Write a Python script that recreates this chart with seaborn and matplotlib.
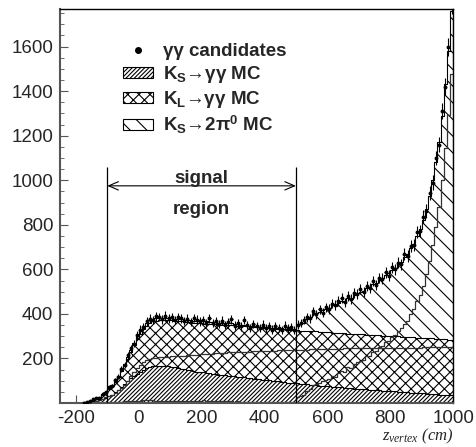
"""
z-vertex distribution of gamma-gamma candidates with the stacked MC
components (K_S -> gg, K_L -> gg, K_S -> 2pi0) and the signal region.
"""
import numpy as np
import pandas as pd
import seaborn as sns
import matplotlib.pyplot as plt
from matplotlib.patches import Patch
from matplotlib.lines import Line2D
from matplotlib.ticker import MultipleLocator


"""
1. Data (10 cm bins starting at -200 cm)
"""
bin_lo = -200
bin_width = 10

# K_S -> gamma gamma MC
ks_gg = [
    0, 1, 2, 3, 5, 7, 9, 12, 17, 22,
    30, 37, 48, 60, 73, 86, 99, 111, 122, 131,
    139, 148, 155, 161, 165, 167, 168, 168, 167, 165,
    163, 160, 157, 154, 151, 148, 146, 143, 141, 139,
    137, 135, 133, 131, 130, 128, 126, 124, 123, 121,
    120, 118, 116, 115, 113, 112, 110, 108, 107, 105,
    103, 102, 100, 99, 97, 95, 94, 92, 91, 89,
    88, 86, 85, 84, 82, 81, 80, 78, 77, 76,
    75, 73, 72, 71, 70, 69, 67, 66, 65, 64,
    63, 62, 61, 60, 59, 58, 57, 56, 55, 54,
    53, 52, 51, 50, 49, 48, 47, 46, 45, 44,
    43, 42, 41, 40, 39, 38, 37, 36, 35, 34]

# K_L -> gamma gamma MC
kl_gg = [
    0, 0, 1, 2, 4, 6, 9, 12, 20, 26,
    32, 38, 46, 57, 69, 83, 100, 120, 140, 158,
    172, 185, 193, 198, 201, 203, 205, 206, 207, 208,
    209, 210, 211, 212, 213, 214, 215, 216, 217, 218,
    219, 220, 221, 222, 223, 224, 225, 226, 227, 228,
    229, 229, 230, 230, 231, 231, 232, 232, 233, 233,
    234, 234, 235, 235, 236, 236, 237, 237, 238, 238,
    239, 239, 240, 240, 241, 241, 242, 242, 242, 243,
    243, 243, 244, 244, 244, 245, 245, 245, 245, 246,
    246, 246, 246, 247, 247, 247, 247, 247, 248, 248,
    248, 248, 248, 248, 249, 249, 249, 249, 249, 249,
    250, 250, 250, 250, 250, 250, 250, 250, 250, 250]

# K_S -> 2 pi0 MC
ks_2pi0 = [
    0, 0, 0, 0, 1, 1, 1, 2, 2, 3,
    3, 4, 4, 5, 6, 7, 8, 8, 9, 10,
    11, 12, 13, 12, 12, 11, 10, 9, 9, 8,
    8, 9, 8, 9, 10, 9, 10, 11, 10, 11,
    12, 11, 10, 11, 10, 9, 10, 9, 8, 8,
    6, 7, 5, 6, 4, 3, 4, 3, 3, 2,
    3, 2, 3, 2, 3, 4, 3, 4, 3, 4,
    28, 30, 36, 55, 62, 80, 84, 90, 98, 104,
    110, 122, 118, 134, 145, 140, 160, 158, 176, 182,
    190, 195, 210, 212, 230, 234, 252, 258, 272, 280,
    296, 305, 324, 335, 356, 370, 400, 420, 458, 486,
    527, 578, 639, 710, 791, 882, 1003, 1144, 1295, 1476]

# gamma gamma candidates (data)
data_counts = [
    0, 0, 2, 4, 8, 16, 21, 24, 42, 48,
    70, 76, 104, 118, 152, 170, 214, 246, 266, 305,
    330, 341, 366, 378, 372, 390, 386, 375, 392, 380,
    384, 372, 386, 380, 368, 378, 364, 382, 374, 366,
    372, 360, 380, 358, 366, 355, 370, 350, 362, 376,
    348, 360, 344, 372, 350, 338, 356, 345, 336, 352,
    338, 346, 330, 344, 336, 328, 348, 335, 340, 326,
    352, 360, 372, 384, 380, 412, 398, 420, 405, 430,
    422, 446, 440, 458, 470, 452, 480, 466, 495, 488,
    510, 498, 524, 515, 548, 530, 562, 558, 586, 572,
    610, 600, 630, 622, 668, 660, 705, 710, 768, 772,
    836, 862, 944, 990, 1100, 1160, 1310, 1420, 1600, 1790]

legend_labels = [
    'γγ candidates',
    r'$\mathbf{K_S}$→γγ MC',
    r'$\mathbf{K_L}$→γγ MC',
    r'$\mathbf{K_S}$→2π$^{\mathbf{0}}$ MC',
]

signal_lo, signal_hi = -100, 500
x_ticks = [-200, 0, 200, 400, 600, 800, 1000]
y_ticks = [200, 400, 600, 800, 1000, 1200, 1400, 1600]

n_bins = len(ks_gg)
bin_hi = bin_lo + bin_width * n_bins
centers = bin_lo + bin_width * (np.arange(n_bins) + 0.5)

df = pd.DataFrame({'z': centers, 'ks': ks_gg, 'kl': kl_gg,
                   'pi0': ks_2pi0, 'data': data_counts})
df['ks_kl'] = df['ks'] + df['kl']
df['total'] = df['ks_kl'] + df['pi0']


"""
2. Plot
"""
sns.set_style('ticks')
plt.rcParams['font.family'] = ['Liberation Sans', 'DejaVu Sans']
plt.rcParams['axes.unicode_minus'] = False
plt.rcParams['hatch.linewidth'] = 0.8
plt.rcParams['mathtext.fontset'] = 'custom'
plt.rcParams['mathtext.rm'] = 'Liberation Sans'
plt.rcParams['mathtext.bf'] = 'Liberation Sans:bold'
plt.rcParams['mathtext.it'] = 'Liberation Serif:italic'

fig = plt.figure(figsize=(4.77, 4.47), dpi=100)
ax = fig.add_axes([0.126, 0.0984, 0.824, 0.882])
ax.set_axisbelow(True)

hist_kws = dict(x='z', binwidth=bin_width, binrange=(bin_lo, bin_hi),
                element='step', ax=ax)

# stacked MC, drawn from the outermost layer inwards
hatch_total, hatch_kl, hatch_ks = '\\\\', 'xxx', '////////'
for col, hatch in [('total', hatch_total), ('ks_kl', hatch_kl),
                   ('ks', hatch_ks)]:
    sns.histplot(data=df, weights=df[col].to_numpy(), fill=True,
                 facecolor='white', edgecolor='black', hatch=hatch,
                 linewidth=0.8, alpha=1, **hist_kws)

# single components as outlines
for col in ['kl', 'pi0']:
    sns.histplot(data=df, weights=df[col].to_numpy(), fill=False,
                 color='#333333', linewidth=0.9, **hist_kws)

# data points
d = df[df['data'] > 0]
ax.errorbar(d['z'], d['data'], yerr=np.sqrt(d['data']), xerr=bin_width / 3,
            fmt='o', ms=1.8, color='black', elinewidth=0.8, capsize=0,
            zorder=5)

# signal region
ax.vlines([signal_lo, signal_hi], 0, 1060, color='black', lw=0.9, zorder=6)
ax.annotate('', xy=(signal_lo, 975), xytext=(signal_hi, 975),
            arrowprops=dict(arrowstyle='<->,head_length=0.7,head_width=0.3',
                            lw=0.8, color='black', shrinkA=0, shrinkB=0))
mid = (signal_lo + signal_hi) / 2
ax.text(mid, 990, 'signal', ha='center', va='baseline',
        fontsize=13.5, fontweight='bold')
ax.text(mid, 847, 'region', ha='center', va='baseline',
        fontsize=13.5, fontweight='bold')

# legend
handles = [
    Line2D([], [], marker='o', ls='none', color='black', ms=4),
    Patch(facecolor='white', edgecolor='black', hatch=hatch_ks, lw=0.8),
    Patch(facecolor='white', edgecolor='black', hatch=hatch_kl, lw=0.8),
    Patch(facecolor='white', edgecolor='black', hatch=hatch_total, lw=0.8),
]
ax.legend(handles, legend_labels, loc='upper left',
          bbox_to_anchor=(0.16, 0.912), frameon=False,
          prop=dict(family='Liberation Sans', weight='bold', size=13.5),
          handlelength=1.6, handleheight=0.55, handletextpad=0.55,
          labelspacing=0.2, borderpad=0, borderaxespad=0)

# axes
ax.set_xlim(-250, 1000)
ax.set_ylim(0, 1770)
ax.set_xticks(x_ticks)
ax.set_yticks(y_ticks)
ax.xaxis.set_minor_locator(MultipleLocator(50))
ax.yaxis.set_minor_locator(MultipleLocator(50))
ax.tick_params(which='both', direction='in', labelsize=13.5, pad=5,
               color='#555555')
ax.tick_params(which='major', length=6)
ax.tick_params(which='minor', length=3)
ax.set_ylabel('')
ax.set_xlabel(r'$z_{vertex}$ (cm)', loc='right', fontsize=12,
              fontfamily='Liberation Serif', fontstyle='italic', labelpad=0)
for side in ['left', 'bottom']:
    ax.spines[side].set_color('#555555')
    ax.spines[side].set_linewidth(1.5)
for side in ['top', 'right']:
    ax.spines[side].set_color('black')
    ax.spines[side].set_linewidth(1.0)

plt.savefig('out.png', dpi=100)
